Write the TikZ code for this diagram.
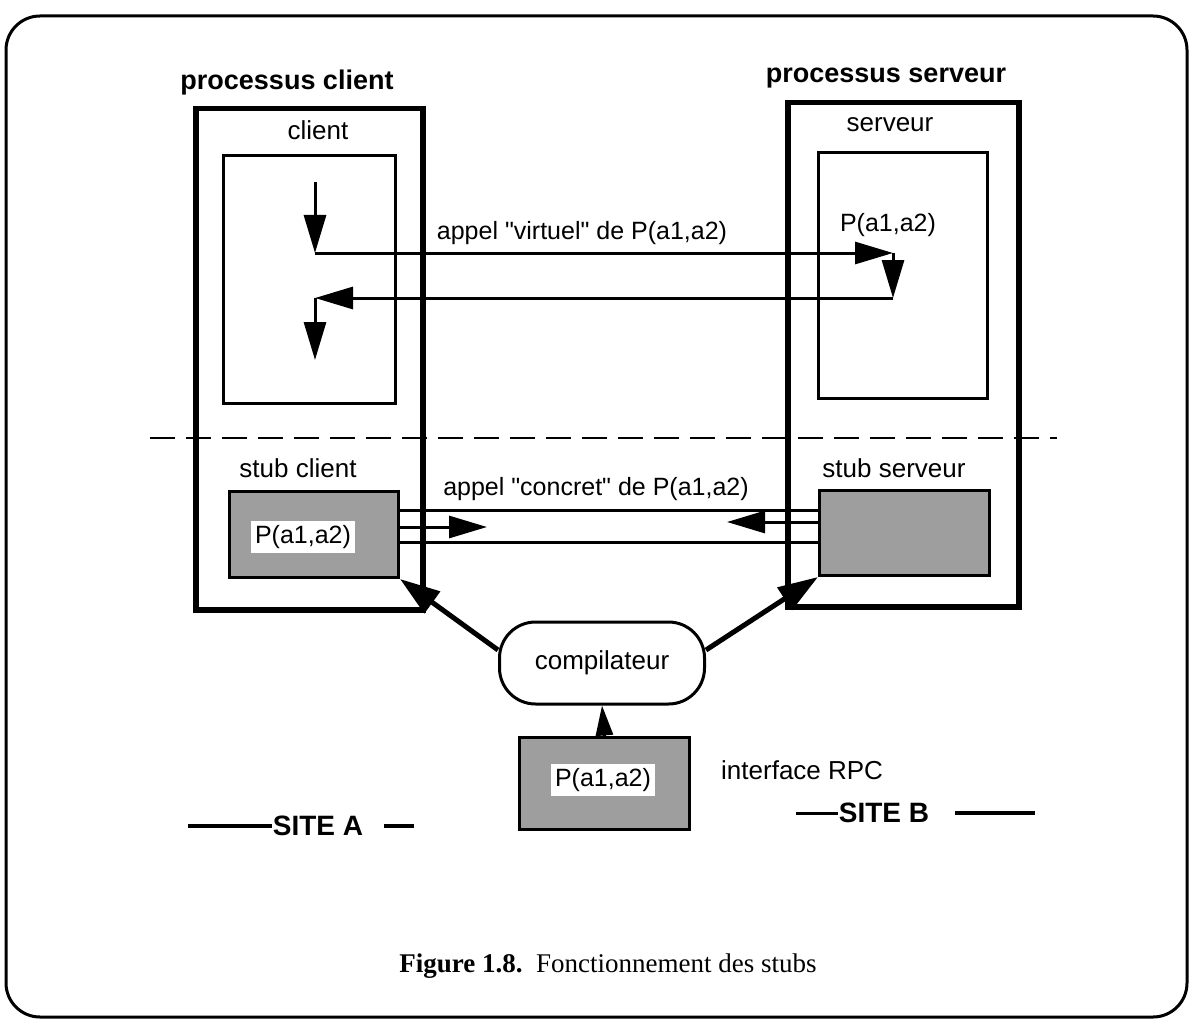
\documentclass[tikz,border=0pt]{standalone}
\usepackage{fontspec}
\setmainfont{Liberation Serif}
\newfontfamily\labelfont{Liberation Sans}
\usetikzlibrary{arrows.meta, positioning}

\begin{document}
\begin{tikzpicture}[
    x=1pt, y=-1pt,
    proc/.style={draw, line width=5.5pt, minimum width=#1, anchor=north west},
    innerbox/.style={draw, line width=3pt, anchor=north west},
    stubbox/.style={draw, line width=3pt, fill=black!38, anchor=north west},
    lbl/.style={font=\labelfont\fontsize{26}{30}\selectfont, inner sep=1pt},
    call/.style={font=\labelfont\fontsize{25}{29}\selectfont, inner sep=1pt},
    title/.style={font=\labelfont\bfseries\fontsize{27}{31}\selectfont},
    site/.style={font=\labelfont\bfseries\fontsize{28}{32}\selectfont, inner sep=1pt},
    arg/.style={call, fill=white, inner sep=4pt},
    conn/.style={line width=3pt},
    arrow/.style={-{Triangle[length=38pt, width=22pt]}, line width=3pt},
    smallarrow/.style={-{Triangle[length=30pt, width=17pt]}, line width=3pt},
    bigarrow/.style={-{Triangle[length=40pt, width=26pt]}, line width=5pt}
]

\useasboundingbox (0,0) rectangle (1190,1024);
\draw[rounded corners=34pt, line width=3pt] (6,16) rectangle (1187,1017);

% the two processes
\node[proc=227pt, minimum height=501pt] (pclient) at (193,106) {};
\node[proc=231pt, minimum height=504pt] (pserver) at (785,100) {};
\node[title] (tclient) at (287,83) {processus client};
\node[title] (tserver) at (886,78) {processus serveur};

\node[innerbox, minimum width=172pt, minimum height=248pt] (cbox) at (222,154) {};
\node[innerbox, minimum width=169pt, minimum height=246pt] (sbox) at (817,151) {};
\node[lbl] (lclient) at (318,130) {client};
\node[lbl] (lserver) at (890,125) {serveur};

% virtual call
\coordinate (v0) at (315,182);
\coordinate (v1) at (315,253);
\coordinate (v2) at (893,253);
\coordinate (v3) at (893,298);
\coordinate (v4) at (315,298);
\coordinate (v5) at (315,360);
\draw[arrow] (v0) -- (v1);
\draw[arrow] (v1) -- (v2);
\draw[arrow] (v2) -- (v3);
\draw[arrow] (v3) -- (v4);
\draw[arrow] (v4) -- (v5);
\node[call] (virt) at (582,233) {appel "virtuel" de P(a1,a2)};
\node[call] (pserv) at (888,225) {P(a1,a2)};

% separation
\coordinate (dl) at (150,438);
\coordinate (dr) at (1057,438);
\draw[line width=2.5pt, dash pattern=on 25pt off 11pt] (dl) -- (dr);

% stubs
\node[lbl] (lstubc) at (298,468) {stub client};
\node[lbl] (lstubs) at (894,468) {stub serveur};
\node[stubbox, minimum width=169pt, minimum height=86pt] (stubc) at (228,490) {};
\node[stubbox, minimum width=170pt, minimum height=85pt] (stubs) at (818,489) {};
\node[arg] (pstubc) at (303,537) {P(a1,a2)};

% concrete call
\coordinate (ctip) at (487,527);
\coordinate (stip) at (727,522);
\draw[conn] (stubc.east |- 0,510) -- (stubs.west |- 0,510);
\draw[arrow] (stubc.east |- ctip) -- (ctip);
\draw[arrow] (stubs.west |- stip) -- (stip);
\draw[conn] (stubc.east |- 0,542) -- (stubs.west |- 0,542);
\node[call] (conc) at (596,489) {appel "concret" de P(a1,a2)};

% compiler and interface
\node[draw, line width=3pt, rounded corners=36pt, minimum width=205pt,
      minimum height=82pt, lbl] (comp) at (602,663) {compilateur};
\node[stubbox, minimum width=170pt, minimum height=92pt] (iface) at (518,736) {};
\node[arg] (piface) at (603,780) {P(a1,a2)};
\node[lbl, anchor=west] (liface) at (720,770) {interface RPC};
\draw[smallarrow] (iface.north) -- (comp.south);
\draw[bigarrow] ([yshift=13pt]comp.west) -- (stubc.south east);
\draw[bigarrow] ([yshift=13pt]comp.east) -- (stubs.south west);

% sites
\node[site] (siteA) at (318,826) {SITE A};
\node[site] (siteB) at (884,813) {SITE B};
\coordinate (a0) at (188,826);
\coordinate (a1) at (384,826);
\coordinate (a2) at (414,826);
\coordinate (b0) at (796,813);
\coordinate (b1) at (955,813);
\coordinate (b2) at (1035,813);
\draw[line width=4pt] (a0) -- (siteA.west);
\draw[line width=4pt] (a1) -- (a2);
\draw[line width=3pt] (b0) -- (siteB.west);
\draw[line width=4pt] (b1) -- (b2);

% caption
\node[font=\fontsize{27}{31}\selectfont] (caption) at (608,966)
    {\textbf{Figure 1.8.}\ \ Fonctionnement des stubs};

\end{tikzpicture}
\end{document}
